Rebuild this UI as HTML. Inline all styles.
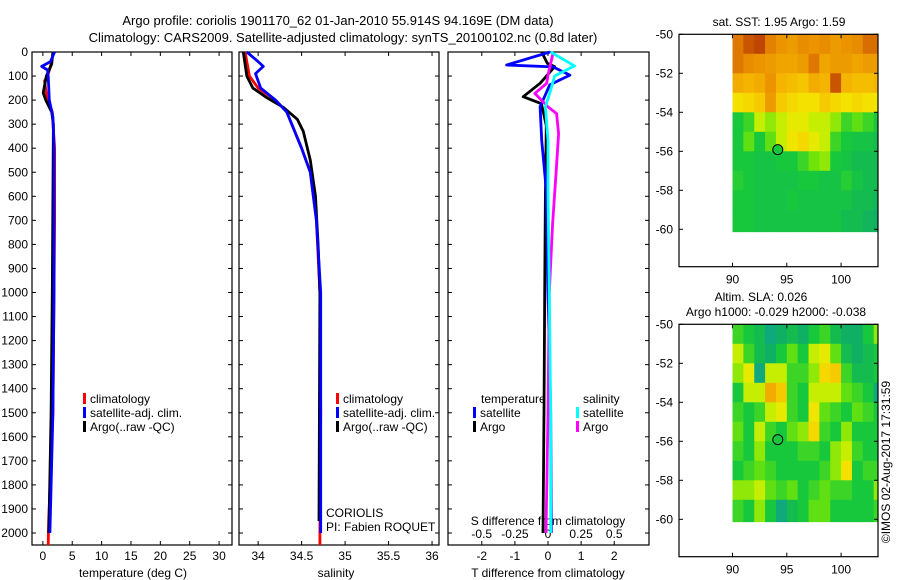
<!DOCTYPE html>
<html><head><meta charset="utf-8"><style>
html,body{margin:0;padding:0;background:#fff;}
svg{display:block;font-family:"Liberation Sans",sans-serif;font-size:12px;}
</style></head><body>
<svg id="fig" width="900" height="580" xmlns="http://www.w3.org/2000/svg">
<text x="338" y="25" text-anchor="middle" font-size="13">Argo profile: coriolis 1901170_62 01-Jan-2010 55.914S 94.169E (DM data)</text>
<text x="343" y="42" text-anchor="middle" font-size="13">Climatology: CARS2009. Satellite-adjusted climatology: synTS_20100102.nc (0.8d later)</text>
<g id="g"></g>
</svg>
<script>
// ---------- data ----------
const depthTicks=[0,100,200,300,400,500,600,700,800,900,1000,1100,1200,1300,1400,1500,1600,1700,1800,1900,2000];
const tTicks=[0,5,10,15,20,25,30];
const sTicks=[34,34.5,35,35.5,36];
const dTTicks=[-2,-1,0,1,2];
const dSTicks=[-0.5,-0.25,0,0.25,0.5];
const dSTickLabels=["-0.5","-0.25","0","0.25","0.5"];

const tClimDepth=[0,50,100,120,180,250,400,700,1000,1500,1950,2050];
const tClimVal=[1.8,1.4,0.8,0.3,0.6,1.6,2.0,2.0,1.9,1.7,1.0,0.9];
const tSatDepth=[0,40,60,75,100,200,270,400,1000,1500,2000];
const tSatVal=[2.0,1.3,-0.2,0.8,0.9,1.1,1.7,1.9,1.9,1.7,1.2];
const tArgoDepth=[0,50,100,170,200,250,300,1000,1500,1900,2000];
const tArgoVal=[1.7,1.5,0.6,0.05,0.5,1.5,1.8,1.6,1.4,1.1,1.0];

const sClimDepth=[0,100,150,200,250,400,500,700,1000,1500,2000,2050];
const sClimVal=[33.85,33.9,34.0,34.2,34.33,34.5,34.6,34.67,34.71,34.72,34.71,34.71];
const sSatDepth=[0,40,60,90,150,200,250,400,500,700,1000,2000];
const sSatVal=[33.87,34.0,34.06,33.97,34.03,34.2,34.33,34.5,34.6,34.67,34.72,34.72];
const sArgoDepth=[0,100,150,190,230,280,330,450,600,800,1000,1950];
const sArgoVal=[33.83,33.87,33.94,34.1,34.29,34.45,34.52,34.6,34.66,34.69,34.71,34.7];

const dTSatDepth=[0,54,62,96,137,228,367,575,1000,1500,2000];
const dTSatVal=[0.06,-1.25,0.15,0.66,0.05,-0.24,-0.19,-0.05,0.0,0.08,0.1];
const dTArgoDepth=[0,47,61,130,186,215,306,600,1000,1500,2000];
const dTArgoVal=[-0.19,-0.02,0.2,-0.24,-0.75,-0.2,-0.05,-0.08,-0.1,-0.12,-0.15];
const dSSatDepth=[0,58,100,158,228,367,575,1000,1500,2000];
const dSSatVal=[0.02,0.2,0.05,0.02,-0.02,0.0,0.0,0.01,0.02,0.02];
const dSArgoDepth=[0,96,130,172,228,256,340,506,714,1000,1500,2000];
const dSArgoVal=[0.04,0.0,-0.01,-0.1,0.0,0.065,0.08,0.06,0.035,0.01,0.0,-0.015];

const mapLats=[-50,-51,-52,-53,-54,-55,-56,-57,-58,-59];
const mapLons=[90,91,92,93,94,95,96,97,98,99,100,101,102,103];
const sstGrid=[
[0.84,0.9,0.92,0.82,0.78,0.76,0.8,0.78,0.8,0.76,0.78,0.8,0.86,0.86],
[0.84,0.8,0.78,0.76,0.74,0.74,0.76,0.84,0.74,0.76,0.76,0.74,0.76,0.76],
[0.72,0.7,0.72,0.78,0.7,0.68,0.66,0.72,0.7,0.9,0.7,0.68,0.68,0.7],
[0.6,0.62,0.65,0.76,0.65,0.62,0.6,0.6,0.65,0.62,0.6,0.62,0.6,0.58],
[0.3,0.35,0.5,0.45,0.5,0.55,0.55,0.5,0.5,0.45,0.35,0.4,0.35,0.3],
[0.3,0.4,0.3,0.4,0.5,0.58,0.62,0.55,0.5,0.35,0.3,0.28,0.28,0.25],
[0.3,0.3,0.28,0.28,0.3,0.3,0.35,0.42,0.45,0.3,0.28,0.25,0.25,0.25],
[0.32,0.3,0.28,0.28,0.28,0.28,0.3,0.3,0.28,0.28,0.32,0.28,0.25,0.25],
[0.3,0.3,0.28,0.28,0.28,0.3,0.28,0.28,0.28,0.28,0.28,0.25,0.25,0.22],
[0.3,0.3,0.28,0.28,0.28,0.28,0.28,0.28,0.28,0.28,0.25,0.25,0.22,0.2]];
const slaGrid=[
[0.35,0.3,0.25,0.15,0.2,0.25,0.2,0.3,0.35,0.25,0.2,0.2,0.3,0.45],
[0.5,0.35,0.25,0.2,0.3,0.4,0.3,0.5,0.55,0.4,0.25,0.2,0.25,0.3],
[0.45,0.55,0.15,0.5,0.5,0.35,0.35,0.45,0.62,0.65,0.35,0.25,0.25,0.3],
[0.3,0.5,0.5,0.72,0.65,0.35,0.3,0.5,0.5,0.5,0.4,0.35,0.3,0.15],
[0.35,0.3,0.35,0.5,0.55,0.35,0.3,0.58,0.4,0.35,0.3,0.4,0.35,0.3],
[0.4,0.3,0.5,0.35,0.3,0.4,0.45,0.62,0.35,0.3,0.45,0.3,0.3,0.3],
[0.35,0.3,0.45,0.3,0.3,0.3,0.35,0.35,0.3,0.45,0.5,0.35,0.3,0.3],
[0.3,0.35,0.4,0.35,0.3,0.3,0.3,0.3,0.35,0.45,0.6,0.3,0.35,0.35],
[0.45,0.45,0.5,0.4,0.35,0.4,0.3,0.35,0.4,0.35,0.35,0.3,0.3,0.45],
[0.35,0.3,0.45,0.3,0.15,0.25,0.3,0.4,0.4,0.3,0.3,0.3,0.3,0.35]];
const argoLon=94.169, argoLat=-55.914;

// ---------- helpers ----------
const NS="http://www.w3.org/2000/svg";
const G=document.getElementById('g');
function el(tag,attrs,parent){const e=document.createElementNS(NS,tag);for(const k in attrs)e.setAttribute(k,attrs[k]);(parent||G).appendChild(e);return e;}
function txt(x,y,s,anchor,parent){const t=el('text',{x:x,y:y,'text-anchor':anchor||'middle'},parent);t.textContent=s;return t;}

const TOP=52,BOT=545;
function yD(d){return TOP+d*0.2405;}
function lin(d0,d1,p0,p1){return v=>p0+(v-d0)*(p1-p0)/(d1-d0);}

const panels=[
 {name:'temperature-panel',L:32,R:232,x:lin(-1.85,32.2,32,232)},
 {name:'salinity-panel',L:239,R:439,x:lin(33.78,36.08,239,439)},
 {name:'difference-panel',L:448,R:649,x:lin(-3.02,3.05,448,649)}
];

function line(panel,depths,vals,color,name,scale){
  const pts=depths.map((d,i)=>panel.x(vals[i]*(scale||1)).toFixed(1)+','+yD(d).toFixed(1)).join(' ');
  const p=el('polyline',{points:pts,fill:'none',stroke:color,'stroke-width':2.8,'stroke-linejoin':'round'});
  
  
}

panels.forEach((p,i)=>{
  const r=el('rect',{x:p.L,y:TOP,width:p.R-p.L,height:BOT-TOP,fill:'none',stroke:'#000','stroke-width':1.2});
  
  
  depthTicks.forEach(d=>{
    el('line',{x1:p.L,x2:p.L+4,y1:yD(d),y2:yD(d),stroke:'#000'});
    el('line',{x1:p.R,x2:p.R-4,y1:yD(d),y2:yD(d),stroke:'#000'});
    if(i===0){const t=txt(28,yD(d)+4,String(d),'end');
      
      }
  });
});

function xTicks(p,ticks,labels,ly,inside){
  ticks.forEach((v,i)=>{
    const x=p.x(v);
    el('line',{x1:x,x2:x,y1:BOT,y2:BOT-4,stroke:'#000'});
    if(!inside) el('line',{x1:x,x2:x,y1:TOP,y2:TOP+4,stroke:'#000'});
    const t=txt(x,ly,labels?labels[i]:String(v));
    
    
  });
}
xTicks(panels[0],tTicks,null,560);
xTicks(panels[1],sTicks,null,560);
xTicks(panels[2],dTTicks,null,560);
dSTicks.forEach((v,i)=>{const t=txt(panels[2].x(v*4),538,dSTickLabels[i]);
  
  });

let t;
t=txt(133,577,'temperature (deg C)');
t=txt(336,577,'salinity');
t=txt(548,577,'T difference from climatology');
t=txt(548,525,'S difference from climatology');

// series
line(panels[0],tClimDepth,tClimVal,'#ff0000','temp-climatology-line');
line(panels[0],tArgoDepth,tArgoVal,'#000000','temp-argo-line');
line(panels[0],tSatDepth,tSatVal,'#0000ff','temp-satellite-line');
line(panels[1],sClimDepth,sClimVal,'#ff0000','sal-climatology-line');
line(panels[1],sArgoDepth,sArgoVal,'#000000','sal-argo-line');
line(panels[1],sSatDepth,sSatVal,'#0000ff','sal-satellite-line');
line(panels[2],dTArgoDepth,dTArgoVal,'#000000','tdiff-argo-line');
line(panels[2],dTSatDepth,dTSatVal,'#0000ff','tdiff-satellite-line');
line(panels[2],dSArgoDepth,dSArgoVal,'#ff00ff','sdiff-argo-line',4);
line(panels[2],dSSatDepth,dSSatVal,'#00ffff','sdiff-satellite-line',4);

// legends
function leg(x,y,color,label,name){
  el('rect',{x:x,y:y-10,width:3,height:11,fill:color});
  const tt=txt(x+7,y,label,'start');
  
  
}
leg(83,403,'#ff0000','climatology','legend-temp-climatology');
leg(83,417,'#0000ff','satellite-adj. clim.','legend-temp-satellite');
leg(83,431,'#000000','Argo(..raw -QC)','legend-temp-argo');
leg(336,403,'#ff0000','climatology','legend-sal-climatology');
leg(336,417,'#0000ff','satellite-adj. clim.','legend-sal-satellite');
leg(336,431,'#000000','Argo(..raw -QC)','legend-sal-argo');
t=txt(481,403,'temperature','start');
t=txt(583,403,'salinity','start');
leg(473,417,'#0000ff','satellite','legend-tdiff-satellite');
leg(473,431,'#000000','Argo','legend-tdiff-argo');
leg(576,417,'#00ffff','satellite','legend-sdiff-satellite');
leg(576,431,'#ff00ff','Argo','legend-sdiff-argo');
t=txt(326,517,'CORIOLIS','start');
t=txt(326,531,'PI: Fabien ROQUET','start');

// ---------- maps ----------
const stops=[[0.1,[16,160,150]],[0.2,[16,176,100]],[0.3,[24,200,60]],[0.42,[110,228,10]],[0.52,[220,240,0]],[0.6,[245,225,0]],[0.7,[245,180,0]],[0.8,[232,140,0]],[0.88,[212,100,0]],[0.96,[170,40,0]]];
function cmap(v){
  if(v<=stops[0][0])return 'rgb('+stops[0][1]+')';
  for(let i=1;i<stops.length;i++){if(v<=stops[i][0]){const a=stops[i-1],b=stops[i],f=(v-a[0])/(b[0]-a[0]);
    return 'rgb('+a[1].map((c,k)=>Math.round(c+(b[1][k]-c)*f)).join(',')+')';}}
  return 'rgb('+stops[stops.length-1][1]+')';
}
function drawMap(top,grid,name){
  const L=679,R=878,B=top+232.4;
  const X=lin(85.07,103.4,L,R), Y=lin(-50,-60,top,top+195);
  const cid='clip-'+name;
  const cp=el('clipPath',{id:cid});
  el('rect',{x:L,y:top,width:R-L,height:B-top},cp);
  const g=el('g',{'clip-path':'url(#'+cid+')'});
  
  
  mapLats.forEach((lat,r)=>{mapLons.forEach((lon,c)=>{
    const y0=Y(lat),y1=Y(lat===-59?-60.12:lat-1);
    el('rect',{x:X(lon).toFixed(2),y:y0.toFixed(2),width:(X(lon+1)-X(lon)+0.5).toFixed(2),height:(y1-y0+0.5).toFixed(2),fill:cmap(grid[r][c])},g);
  });});
  const fr=el('rect',{x:L,y:top,width:R-L,height:B-top,fill:'none',stroke:'#000','stroke-width':1.2});
  
  
  [-50,-52,-54,-56,-58,-60].forEach(lat=>{
    el('line',{x1:L,x2:L+4,y1:Y(lat),y2:Y(lat),stroke:'#000'});
    el('line',{x1:R,x2:R-4,y1:Y(lat),y2:Y(lat),stroke:'#000'});
    const tt=txt(673,Y(lat)+4,String(lat),'end');
    
    
  });
  [90,95,100].forEach(lon=>{
    el('line',{x1:X(lon),x2:X(lon),y1:B,y2:B-4,stroke:'#000'});
    el('line',{x1:X(lon),x2:X(lon),y1:top,y2:top+4,stroke:'#000'});
    const tt=txt(X(lon),B+17,String(lon));
    
    
  });
  const dot=el('circle',{cx:X(argoLon),cy:Y(argoLat),r:5,fill:cmap(0.3),stroke:'#000','stroke-width':1});
  
  
}
drawMap(34.3,sstGrid,'sst-map');
drawMap(324.3,slaGrid,'sla-map');
t=txt(779,26,'sat. SST: 1.95 Argo: 1.59');
t=txt(761,301,'Altim. SLA: 0.026');
t=txt(776,316,'Argo h1000: -0.029 h2000: -0.038');
t=el('text',{x:0,y:0,'text-anchor':'middle',transform:'translate(890,462) rotate(-90)'});
t.textContent='©IMOS 02-Aug-2017 17:31:59';


</script>
</body></html>
